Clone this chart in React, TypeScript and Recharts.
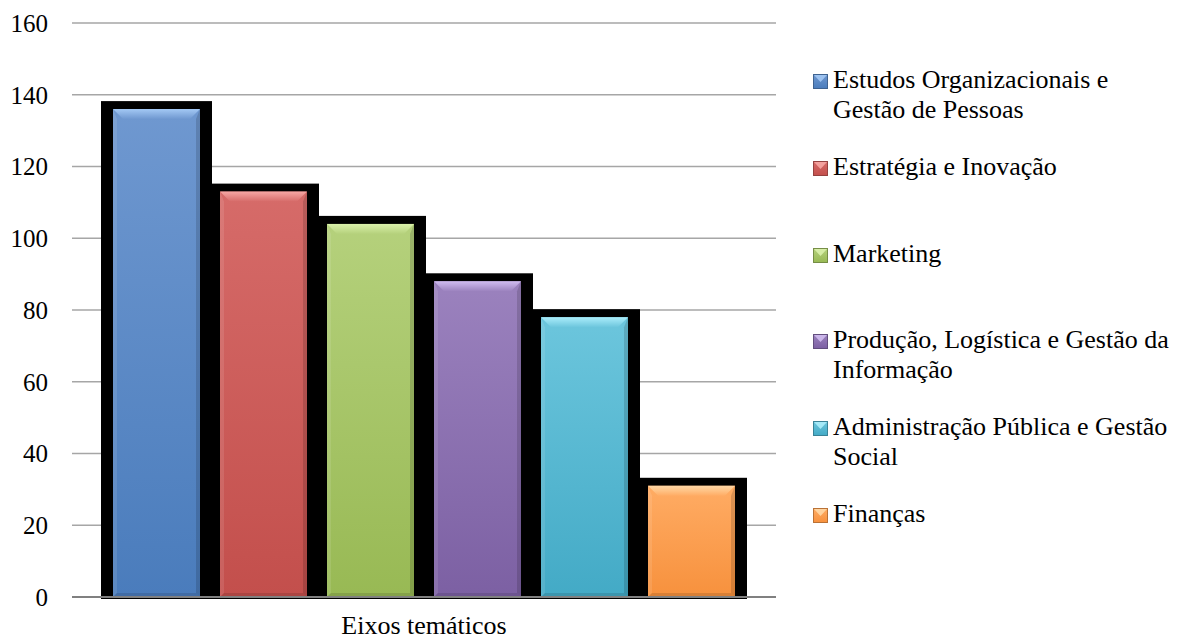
import React from "react";
import { BarChart, Bar, XAxis, YAxis, CartesianGrid } from "recharts";

const categories = ["Eixos temáticos"];
const seriesNames = [
  "Estudos Organizacionais e Gestão de Pessoas",
  "Estratégia e Inovação",
  "Marketing",
  "Produção, Logística e Gestão da Informação",
  "Administração Pública e Gestão Social",
  "Finanças",
];
const seriesValues = [136, 113, 104, 88, 78, 31];
const yTicks = [0, 20, 40, 60, 80, 100, 120, 140, 160];

// top / bottom of the body gradient, and the light top bevel
const palette = [
  { top: "#6f98d0", bottom: "#4a7cbc", hi: "#a3c8f4" },
  { top: "#d66b69", bottom: "#c34f4c", hi: "#f6a7a4" },
  { top: "#b5d17c", bottom: "#98b954", hi: "#daf1ab" },
  { top: "#9b82be", bottom: "#7c60a3", hi: "#d0bcf0" },
  { top: "#6cc6dd", bottom: "#43aac6", hi: "#acedfb" },
  { top: "#ffac64", bottom: "#f7913d", hi: "#ffd8a6" },
];

const FONT = "Liberation Serif, Tinos, Times New Roman, DejaVu Serif, serif";

const data = categories.map((name) => {
  const row: any = { name };
  seriesValues.forEach((v, i) => (row["s" + i] = v));
  return row;
});

const BevelBar = (props: any) => {
  const { x, y, width, height, ci } = props;
  if (width == null || height == null) return null;
  const b = 10;
  const s = 4;
  return (
    <g>
      <rect x={x - 12} y={y - 8} width={width + 24} height={height + 10} fill="#000" />
      <rect x={x} y={y} width={width} height={height} fill={`url(#body${ci})`} />
      <polygon
        points={`${x},${y} ${x + width},${y} ${x + width - b},${y + b} ${x + b},${y + b}`}
        fill={`url(#bev${ci})`}
      />
      <polygon
        points={`${x},${y} ${x + s},${y + b} ${x + s},${y + height - s} ${x},${y + height}`}
        fill="#fff"
        fillOpacity={0.1}
      />
      <polygon
        points={`${x + width},${y} ${x + width - s},${y + b} ${x + width - s},${y + height - s} ${x + width},${y + height}`}
        fill="#000"
        fillOpacity={0.14}
      />
      <polygon
        points={`${x},${y + height} ${x + s},${y + height - s} ${x + width - s},${y + height - s} ${x + width},${y + height}`}
        fill="#000"
        fillOpacity={0.12}
      />
    </g>
  );
};

const LegendMarker = ({ ci }: { ci: number }) => {
  const c = palette[ci];
  return (
    <svg width={15} height={15} style={{ position: "absolute", left: 0, top: 9 }}>
      <defs>
        <linearGradient id={`lg${ci}`} x1="0" y1="0" x2="0" y2="1">
          <stop offset="0%" stopColor={c.top} />
          <stop offset="100%" stopColor={c.bottom} />
        </linearGradient>
      </defs>
      <rect x={0.5} y={0.5} width={14} height={14} fill={`url(#lg${ci})`} stroke={c.bottom} strokeOpacity={0.9} />
      <polygon points="1,1 14,1 7.5,8" fill={c.hi} fillOpacity={0.9} />
      <rect x={0.5} y={0.5} width={14} height={14} fill="none" stroke="#000" strokeOpacity={0.25} />
    </svg>
  );
};

export default function App() {
  return (
    <div
      style={{
        position: "absolute",
        left: 0,
        top: 0,
        width: 1188,
        height: 639,
        background: "#fff",
        fontFamily: FONT,
      }}
    >
      <BarChart
        width={1188}
        height={639}
        data={data}
        margin={{ top: 23, right: 412, bottom: 0, left: 0 }}
        barSize={87}
        barGap={20}
        barCategoryGap={0}
        style={{ fontFamily: FONT }}
      >
        <defs>
          {palette.map((c, i) => (
            <linearGradient key={"b" + i} id={`body${i}`} x1="0" y1="0" x2="0" y2="1">
              <stop offset="0%" stopColor={c.top} />
              <stop offset="100%" stopColor={c.bottom} />
            </linearGradient>
          ))}
          {palette.map((c, i) => (
            <linearGradient key={"h" + i} id={`bev${i}`} x1="0" y1="0" x2="0" y2="1">
              <stop offset="0%" stopColor={c.hi} />
              <stop offset="100%" stopColor={c.top} />
            </linearGradient>
          ))}
        </defs>
        <CartesianGrid vertical={false} stroke="#a6a6a6" strokeWidth={1.5} />
        <YAxis
          domain={[0, 160]}
          ticks={yTicks}
          width={72}
          axisLine={false}
          tickLine={false}
          tickSize={0}
          tickMargin={24}
          tick={{ fill: "#000", fontSize: 25, fontFamily: FONT }}
        />
        <XAxis
          dataKey="name"
          height={42}
          axisLine={{ stroke: "#808080", strokeWidth: 2 }}
          tickLine={false}
          tickSize={0}
          tickMargin={19}
          tick={{ fill: "#000", fontSize: 26, fontFamily: FONT }}
        />
        {seriesNames.map((n, i) => (
          <Bar
            key={n}
            dataKey={"s" + i}
            name={n}
            isAnimationActive={false}
            shape={(p: any) => <BevelBar {...p} ci={i} />}
          />
        ))}
      </BarChart>
      <div style={{ position: "absolute", left: 813, top: 0 }}>
        {seriesNames.map((n, i) => (
          <div
            key={n}
            style={{
              position: "absolute",
              left: 0,
              top: 65 + i * 86.8,
              width: 360,
              fontSize: 26,
              lineHeight: "30px",
              color: "#000",
            }}
          >
            <LegendMarker ci={i} />
            <div style={{ marginLeft: 20 }}>{n}</div>
          </div>
        ))}
      </div>
    </div>
  );
}
